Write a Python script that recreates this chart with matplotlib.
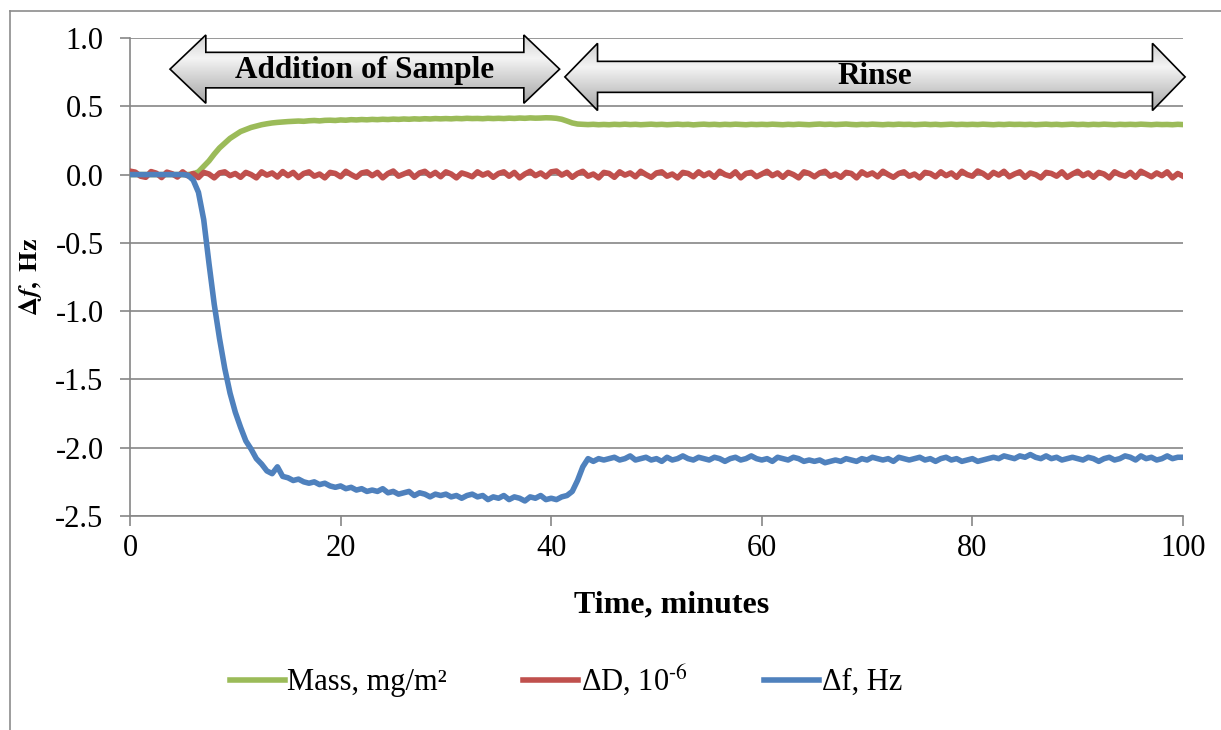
import numpy as np
import matplotlib
matplotlib.use("Agg")
import matplotlib.pyplot as plt
import matplotlib.ticker as mticker
from matplotlib.patches import Polygon
from matplotlib.lines import Line2D
from matplotlib.colors import LinearSegmentedColormap

plt.rcParams.update({
    "font.family": ["Liberation Serif", "DejaVu Serif"],
    "mathtext.fontset": "stix",
    "axes.unicode_minus": False,
})

# time axis, one reading every half minute
time_min = np.linspace(0, 100, 201)

mass = [
    0.000, 0.000, 0.000, 0.000, 0.000, 0.000, 0.000, 0.000, 0.000, 0.000,
    0.000, 0.000, 0.005, 0.020, 0.060, 0.100, 0.150, 0.195, 0.230, 0.265,
    0.290, 0.315, 0.330, 0.345, 0.355, 0.365, 0.372, 0.378, 0.382, 0.385,
    0.388, 0.390, 0.392, 0.390, 0.394, 0.396, 0.393, 0.397, 0.398, 0.396,
    0.400, 0.398, 0.402, 0.400, 0.403, 0.401, 0.404, 0.402, 0.405, 0.403,
    0.406, 0.404, 0.407, 0.405, 0.408, 0.406, 0.409, 0.407, 0.410, 0.408,
    0.410, 0.408, 0.411, 0.409, 0.412, 0.410, 0.411, 0.409, 0.412, 0.410,
    0.412, 0.410, 0.413, 0.411, 0.414, 0.412, 0.415, 0.413, 0.414, 0.416,
    0.415, 0.412, 0.405, 0.392, 0.378, 0.370, 0.368, 0.366, 0.368, 0.365,
    0.367, 0.365, 0.368, 0.366, 0.369, 0.366, 0.368, 0.365, 0.367, 0.369,
    0.366, 0.368, 0.365, 0.367, 0.369, 0.366, 0.368, 0.364, 0.367, 0.369,
    0.366, 0.368, 0.365, 0.368, 0.366, 0.369, 0.367, 0.365, 0.368, 0.366,
    0.368, 0.366, 0.369, 0.367, 0.365, 0.368, 0.366, 0.369, 0.367, 0.365,
    0.368, 0.370, 0.367, 0.369, 0.366, 0.368, 0.370, 0.367, 0.365, 0.368,
    0.366, 0.369, 0.367, 0.365, 0.368, 0.366, 0.369, 0.367, 0.368, 0.365,
    0.367, 0.369, 0.366, 0.368, 0.365, 0.367, 0.369, 0.366, 0.368, 0.366,
    0.368, 0.366, 0.369, 0.367, 0.365, 0.368, 0.366, 0.369, 0.367, 0.368,
    0.366, 0.368, 0.365, 0.367, 0.369, 0.366, 0.368, 0.365, 0.367, 0.369,
    0.366, 0.368, 0.365, 0.368, 0.366, 0.369, 0.367, 0.365, 0.368, 0.366,
    0.368, 0.366, 0.369, 0.367, 0.365, 0.368, 0.366, 0.367, 0.365, 0.368,
    0.366,
]

dissipation = [
    0.025, 0.018, -0.012, -0.020, 0.022, 0.010, -0.022, 0.018, 0.006, -0.018,
    0.020, -0.010, 0.008, -0.022, 0.016, 0.004, -0.024, 0.012, 0.020, -0.008,
    0.008, -0.020, 0.016, 0.000, -0.024, 0.020, -0.004, 0.012, -0.018, 0.022,
    -0.008, 0.016, -0.022, 0.008, 0.020, -0.012, 0.004, -0.024, 0.016, 0.008,
    -0.016, 0.024, 0.000, -0.020, 0.012, 0.020, -0.008, 0.016, -0.024, 0.008,
    0.026, -0.012, 0.004, 0.020, -0.020, 0.012, 0.024, -0.008, 0.016, -0.016,
    0.020, 0.004, -0.024, 0.012, 0.000, -0.016, 0.020, -0.004, 0.012, -0.020,
    0.008, 0.020, -0.012, 0.016, -0.024, 0.004, 0.024, -0.008, 0.012, -0.016,
    0.020, 0.026, -0.004, 0.016, -0.020, 0.008, 0.024, -0.012, 0.004, -0.024,
    0.016, 0.008, -0.020, 0.020, -0.004, 0.012, -0.016, 0.024, 0.000, -0.020,
    0.012, 0.020, -0.012, 0.004, -0.024, 0.016, 0.008, -0.016, 0.020, -0.008,
    0.012, -0.020, 0.024, 0.000, -0.012, 0.020, -0.024, 0.008, 0.016, -0.016,
    0.004, 0.024, -0.008, 0.012, -0.020, 0.016, 0.000, -0.024, 0.020, 0.008,
    -0.016, 0.012, 0.024, -0.012, 0.004, -0.020, 0.016, 0.008, -0.024, 0.020,
    -0.004, 0.012, -0.016, 0.024, 0.000, -0.020, 0.008, 0.020, -0.012, 0.004,
    -0.024, 0.016, 0.008, -0.016, 0.020, -0.008, 0.012, -0.020, 0.024, 0.000,
    -0.012, 0.026, 0.008, -0.020, 0.016, -0.004, 0.024, -0.016, 0.004, 0.020,
    -0.020, 0.012, 0.000, -0.024, 0.016, 0.008, -0.012, 0.020, -0.020, 0.004,
    0.024, -0.008, 0.012, -0.020, 0.016, 0.004, -0.024, 0.020, 0.000, -0.012,
    0.016, -0.020, 0.024, 0.004, -0.016, 0.012, -0.008, 0.020, -0.024, 0.008,
    -0.012,
]

frequency = [
    0.000, 0.000, 0.000, 0.000, 0.000, 0.000, 0.000, 0.000, 0.000, 0.000,
    0.000, -0.005, -0.040, -0.130, -0.330, -0.650, -0.950, -1.200, -1.420, -1.600,
    -1.740, -1.850, -1.950, -2.010, -2.080, -2.120, -2.170, -2.190, -2.140, -2.210,
    -2.220, -2.240, -2.230, -2.250, -2.260, -2.250, -2.270, -2.260, -2.280, -2.290,
    -2.280, -2.300, -2.290, -2.310, -2.300, -2.320, -2.310, -2.320, -2.300, -2.330,
    -2.320, -2.340, -2.330, -2.320, -2.350, -2.330, -2.340, -2.360, -2.340, -2.350,
    -2.340, -2.360, -2.350, -2.370, -2.350, -2.340, -2.360, -2.350, -2.380, -2.360,
    -2.370, -2.350, -2.380, -2.360, -2.370, -2.390, -2.360, -2.370, -2.350, -2.380,
    -2.370, -2.380, -2.360, -2.350, -2.320, -2.240, -2.140, -2.080, -2.100, -2.080,
    -2.090, -2.080, -2.070, -2.090, -2.080, -2.060, -2.090, -2.080, -2.070, -2.090,
    -2.080, -2.100, -2.070, -2.090, -2.080, -2.060, -2.080, -2.090, -2.070, -2.080,
    -2.090, -2.070, -2.080, -2.100, -2.080, -2.070, -2.090, -2.080, -2.060, -2.080,
    -2.090, -2.080, -2.100, -2.070, -2.080, -2.090, -2.070, -2.080, -2.100, -2.090,
    -2.100, -2.090, -2.110, -2.100, -2.090, -2.100, -2.080, -2.090, -2.100, -2.080,
    -2.090, -2.070, -2.080, -2.090, -2.080, -2.100, -2.070, -2.080, -2.090, -2.080,
    -2.070, -2.090, -2.080, -2.100, -2.080, -2.070, -2.090, -2.080, -2.100, -2.090,
    -2.080, -2.100, -2.090, -2.080, -2.070, -2.080, -2.060, -2.070, -2.080, -2.060,
    -2.070, -2.050, -2.070, -2.080, -2.060, -2.080, -2.070, -2.090, -2.080, -2.070,
    -2.080, -2.090, -2.070, -2.080, -2.100, -2.080, -2.070, -2.090, -2.080, -2.060,
    -2.070, -2.090, -2.060, -2.080, -2.070, -2.090, -2.080, -2.060, -2.080, -2.070,
    -2.070,
]

series_labels = ["Mass, mg/m²", r"ΔD, 10$^{\text{-}6}$", "Δf, Hz"]
COLORS = {"mass": "#9BBB59", "dd": "#C0504D", "df": "#4F81BD"}
GRID = "#868686"

# phase annotations: (label, start, end)
phases = [("Addition of Sample", 3.8, 40.8), ("Rinse", 41.3, 100.2)]


def block_arrow(ax, x0, x1, ytop, ybot, shaft_top, shaft_bot, head, label):
    ymid = (ytop + ybot) / 2
    pts = [(x0, ymid), (x0 + head, ytop), (x0 + head, shaft_top),
           (x1 - head, shaft_top), (x1 - head, ytop), (x1, ymid),
           (x1 - head, ybot), (x1 - head, shaft_bot), (x0 + head, shaft_bot),
           (x0 + head, ybot)]
    poly = Polygon(pts, closed=True, facecolor="none", edgecolor="black",
                   lw=1.2, zorder=6, clip_on=False)
    ax.add_patch(poly)
    cmap = LinearSegmentedColormap.from_list(
        "g", [(0, "#a6a6a6"), (0.35, "#d0d0d0"), (0.65, "#f4f4f4"), (1, "#cfcfcf")])
    grad = np.linspace(0, 1, 100).reshape(-1, 1)
    im = ax.imshow(grad, cmap=cmap, aspect="auto", origin="lower",
                   extent=[x0, x1, ybot, ytop], zorder=5)
    im.set_clip_path(poly)
    ax.text((x0 + x1) / 2, (shaft_top + shaft_bot) / 2, label, ha="center",
            va="center", fontsize=22.5, fontweight="bold", zorder=7)


fig = plt.figure(figsize=(12.21, 7.30), dpi=100)
ax = fig.add_axes([130 / 1221, 1 - 516 / 730, 1053 / 1221, 478 / 730])

ax.plot(time_min, mass, color=COLORS["mass"], lw=4, label=series_labels[0], zorder=3)
ax.plot(time_min, dissipation, color=COLORS["dd"], lw=4, label=series_labels[1], zorder=3)
ax.plot(time_min, frequency, color=COLORS["df"], lw=4, label=series_labels[2], zorder=4)

ax.set_xlim(0, 100)
ax.set_ylim(-2.5, 1.0)
ax.set_xticks(np.arange(0, 101, 20))
ax.set_yticks(np.arange(-2.5, 1.01, 0.5))
ax.yaxis.set_major_formatter(mticker.FormatStrFormatter("%.1f"))
ax.grid(axis="y", color=GRID, lw=1.2)
ax.set_axisbelow(True)
for s in ["top", "right"]:
    ax.spines[s].set_visible(False)
for s in ["left", "bottom"]:
    ax.spines[s].set_color(GRID)
    ax.spines[s].set_linewidth(1.2)
ax.tick_params(direction="out", length=7, width=1.2, color=GRID, labelsize=22)
ax.tick_params(axis="y", pad=12)
ax.tick_params(axis="x", pad=6)

ax.set_xlabel("Time, minutes", fontsize=23, fontweight="bold")
ax.xaxis.set_label_coords(0.514, -0.155)
ax.set_ylabel(r"$\mathbf{\Delta}\mathbfit{f}\mathbf{,\ Hz}$", fontsize=19)
ax.yaxis.set_label_coords(-0.082, 0.5)

# arrows above the curves
block_arrow(ax, phases[0][1], phases[0][2], 1.022, 0.522, 0.895, 0.635, 3.4, phases[0][0])
block_arrow(ax, phases[1][1], phases[1][2], 0.961, 0.469, 0.829, 0.602, 3.1, phases[1][0])
ax.set_xlim(0, 100)
ax.set_ylim(-2.5, 1.0)

fig.legend(loc="center", bbox_to_anchor=(566 / 1221, 1 - 680 / 730), ncol=3,
           frameon=False, fontsize=22, handlelength=1.8, handletextpad=0.08,
           columnspacing=2.5)

# outer chart border
fig.add_artist(Line2D([10 / 1221, 10 / 1221], [0, 1 - 11 / 730],
                      transform=fig.transFigure, color="#8c8c8c", lw=1.2))
fig.add_artist(Line2D([10 / 1221, 1], [1 - 11 / 730, 1 - 11 / 730],
                      transform=fig.transFigure, color="#8c8c8c", lw=1.2))

fig.savefig("out.png", dpi=100)
